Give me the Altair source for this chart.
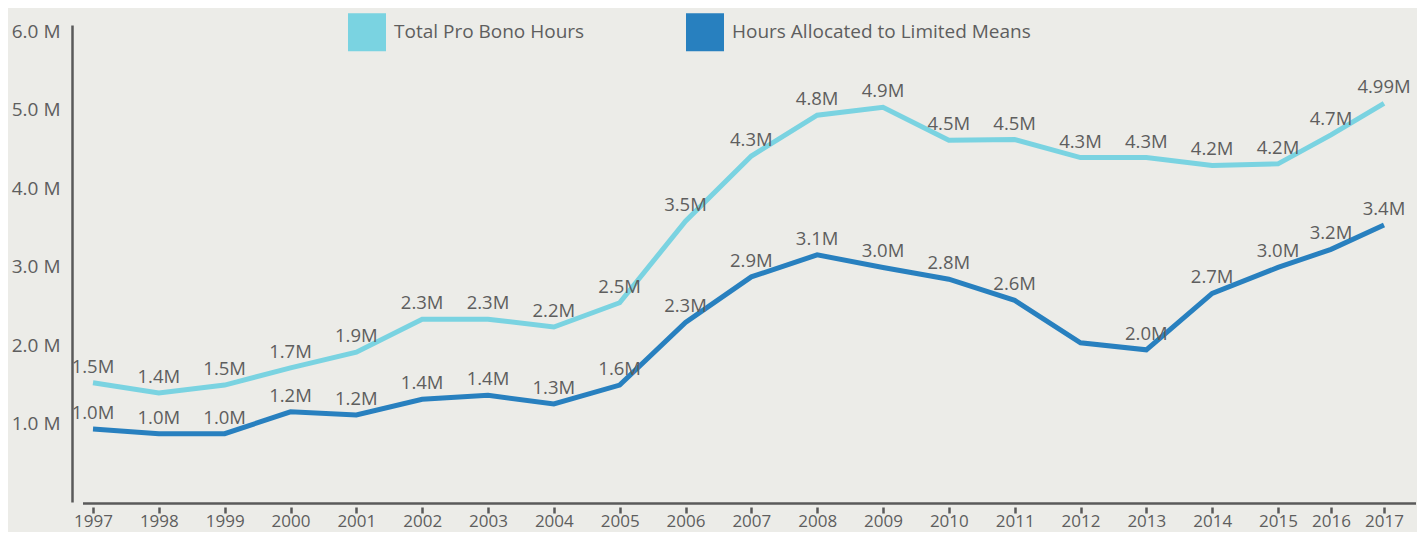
import altair as alt
import pandas as pd

# ---- data ----
years = list(range(1997, 2018))
series_names = ["Total Pro Bono Hours", "Hours Allocated to Limited Means"]
series_colors = ["#7AD3E1", "#2880BF"]

total_hours = [1.52, 1.39, 1.49, 1.71, 1.91, 2.33, 2.33, 2.23, 2.54, 3.58, 4.41,
               4.93, 5.03, 4.61, 4.62, 4.39, 4.39, 4.29, 4.31, 4.68, 5.08]
total_labels = ["1.5M", "1.4M", "1.5M", "1.7M", "1.9M", "2.3M", "2.3M", "2.2M", "2.5M", "3.5M", "4.3M",
                "4.8M", "4.9M", "4.5M", "4.5M", "4.3M", "4.3M", "4.2M", "4.2M", "4.7M", "4.99M"]

limited_hours = [0.93, 0.87, 0.87, 1.15, 1.11, 1.31, 1.36, 1.25, 1.49, 2.29, 2.87,
                 3.15, 2.99, 2.84, 2.57, 2.03, 1.94, 2.66, 2.99, 3.22, 3.53]
limited_labels = ["1.0M", "1.0M", "1.0M", "1.2M", "1.2M", "1.4M", "1.4M", "1.3M", "1.6M", "2.3M", "2.9M",
                  "3.1M", "3.0M", "2.8M", "2.6M", "", "2.0M", "2.7M", "3.0M", "3.2M", "3.4M"]

y_ticks = [1, 2, 3, 4, 5, 6]

rows = []
for name, vals, labs in [(series_names[0], total_hours, total_labels),
                         (series_names[1], limited_hours, limited_labels)]:
    for yr, v, lab in zip(years, vals, labs):
        rows.append({"series": name, "year": yr, "value": v, "label": lab})
df = pd.DataFrame(rows)

FONT = "Open Sans"
TEXT = "#5e5e5e"
AXIS = "#5a5a5a"
W, H = 1344, 477

x_scale = alt.Scale(domain=[1997, 2015, 2017], range=[21, 1206, 1312], zero=False, nice=False)
y_scale = alt.Scale(domain=[0, 6.08], zero=False, nice=False)

x_enc = alt.X(
    "year:Q", scale=x_scale,
    axis=alt.Axis(values=years, format="d", title=None, domain=False, grid=False,
                  ticks=True, tickSize=6, tickWidth=2.5, tickColor=AXIS, offset=5,
                  labelPadding=0, labelFont=FONT, labelFontSize=17, labelColor=TEXT,
                  labelFlush=False, labelOverlap=False),
)
y_enc = alt.Y(
    "value:Q", scale=y_scale,
    axis=alt.Axis(values=y_ticks, labelExpr="format(datum.value, '.1f') + ' M'", title=None,
                  grid=False, ticks=False, tickSize=0, domain=True, domainColor=AXIS,
                  domainWidth=2.5, labelPadding=12, labelFont=FONT, labelFontSize=19,
                  labelColor=TEXT, labelFlush=False),
)

base = alt.Chart(df)

lines = base.mark_line(strokeWidth=5).encode(
    x=x_enc, y=y_enc,
    stroke=alt.Stroke(
        "series:N",
        scale=alt.Scale(domain=series_names, range=series_colors),
        legend=alt.Legend(title=None, orient="none", legendX=276, legendY=-12,
                          direction="horizontal", columns=2, symbolType="square",
                          symbolSize=361, symbolStrokeWidth=19, symbolOpacity=1,
                          labelFont=FONT, labelFontSize=19, labelColor=TEXT,
                          labelOffset=8, columnPadding=72, padding=0, labelLimit=0),
    ),
)

labels = base.mark_text(baseline="alphabetic", dy=-10, font=FONT, fontSize=18.5, color=TEXT).encode(
    x=x_enc, y=y_enc, text="label:N",
)

x_line = alt.Chart(pd.DataFrame({"a": [0]})).mark_rule(color=AXIS, strokeWidth=2.5).encode(
    x=alt.value(11), x2=alt.value(W), y=alt.value(H + 1.5),
)

chart = alt.layer(lines, labels, x_line).properties(
    width=W, height=H, background="#ECECE8",
    padding={"left": 64, "top": 17, "right": 1, "bottom": 30},
    autosize=alt.AutoSizeParams(type="none"),
).configure_view(stroke=None)

chart.save("out.html", embed_options={"renderer": "svg", "actions": False})
